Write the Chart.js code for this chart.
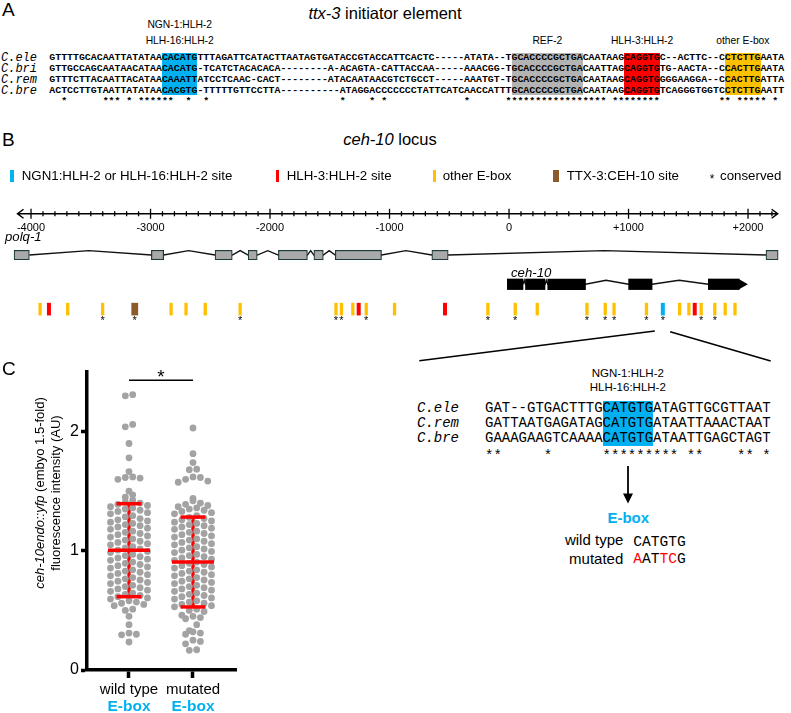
<!DOCTYPE html>
<html>
<head>
<meta charset="utf-8">
<title>ceh-10 E-box</title>
<script src="https://cdn.jsdelivr.net/npm/chart.js@4.4.1/dist/chart.umd.min.js"></script>
<style>
  html, body { margin: 0; padding: 0; background: #fff; }
  #page { position: relative; width: 791px; height: 713px; overflow: hidden;
          font-family: "Liberation Sans", Arial, sans-serif; color: #000; }
  .t { position: absolute; white-space: pre; }
  .box { position: absolute; }
  canvas { position: absolute; }
</style>
</head>
<body>
<div id="page">
  <canvas id="locus" width="791" height="215" style="left:0;top:150px;"></canvas>
  <canvas id="dots" width="250" height="353" style="left:0;top:360px;"></canvas>
</div>
<script>
// === fonts / colours ===
const SANS = '"Liberation Sans", Arial, sans-serif';
const MONO = '"Liberation Mono", "Courier New", monospace';
const BLUE = '#00b0f0', RED = '#ff0000', GOLD = '#ffc000', BROWN = '#8c5a2b', GREY = '#b3b3b3';

// === A: ttx-3 initiator element ===
const A_SPECIES = ['C.ele', 'C.bri', 'C.rem', 'C.bre'];
const A_SEQUENCES = [
  'GTTTTGCACAATTATATAACACATGTTTAGATTCATACTTAATAGTGATACCGTACCATTCACTC-----ATATA--TGCACCCCGCTGACAATAAGCAGGTGC--ACTTC--CCTCTTGAATA',
  'GTTGCCAGCAATAACATAACACATG-TCATCTACACACA--------A-ACAGTA-CATTACCAA-----AAACGG-TGCACCCCGCTGACAATTAGCAGGTGTG-AACTA--CCACTTGAATA',
  'GTTTCTTACAATTACATAACAAATTATCCTCAAC-CACT--------ATACAATAACGTCTGCCT-----AAATGT-TGCACCCCGCTGACAATAAGCAGGTGGGGAAGGA--CCACTTGATTA',
  'ACTCCTTGTAATTATATAACACGTG-TTTTTGTTCCTTA----------ATAGGACCCCCCCTATTCATCAACCATTTGCACCCCGCTGACAATAAGCAGGTGTCAGGGTGGTCCTCTTGAATT'
];
const A_SITE_START = [19, 78, 97, 114];
const A_SITE_LENGTH = [6, 12, 6, 6];
const A_SITE_COLOR = [BLUE, GREY, RED, GOLD];
const A_SITE_LABEL = [['NGN-1:HLH-2', 'HLH-16:HLH-2'], ['REF-2'], ['HLH-3:HLH-2'], ['other E-box']];

// === B: ceh-10 locus (bp) ===
const LOCUS_TICK_POS = [-4000, -3000, -2000, -1000, 0, 1000, 2000];
const LOCUS_TICK_LABELS = ['-4000', '-3000', '-2000', '-1000', '0', '+1000', '+2000'];
const POLQ_EXONS = [[-4142, -4014], [-2993, -2890], [-2460, -2316], [-2183, -2107], [-1930, -1687],
                    [-1633, -1554], [-1454, -1067], [-646, -509], [2150, 2252]];
const POLQ_PEAKS = [-3516, -2681, -2250, -2019, -1660, -1505, -863, 797];
const CEH10_EXONS = [[-14, 117], [138, 301], [324, 640], [1001, 1197], [1668, 1926]];
const CEH10_PEAKS = [128, 313, 811, 1423];
const CEH10_TIP = 1999;
const SITE_POS = [-3924, -3850, -3693, -3401, -3132, -2828, -2703, -2542, -2250, -1448, -1402,
                  -1307, -1258, -1195, -958, -536, -177, 52, 236, 652, 805, 879, 1150, 1287,
                  1428, 1505, 1554, 1608, 1722, 1809, 1891];
const SITE_TYPE = ['E','H','E','E','T','E','E','E','E','E','E','E','H','E','E','H','E','E','E','E',
                   'E','E','E','N','E','E','H','E','E','E','E'];
const SITE_CONSERVED = [0,0,0,1,1,0,0,0,1,1,1,0,0,1,0,0,1,1,0,1,1,1,1,1,0,0,0,1,1,0,0];
const LEGEND_LABELS = ['NGN1:HLH-2 or HLH-16:HLH-2 site', 'HLH-3:HLH-2 site', 'other E-box', 'TTX-3:CEH-10 site'];
const LEGEND_TYPES = ['N', 'H', 'E', 'T'];

// zoomed alignment around the NGN-1 site
const Z_SPECIES = ['C.ele', 'C.rem', 'C.bre'];
const Z_SEQUENCES = [
  'GAT--GTGACTTTGCATGTGATAGTTGCGTTAAT',
  'GATTAATGAGATAGCATGTGATAATTAAACTAAT',
  'GAAAGAAGTCAAAACATGTGATAATTGAGCTAGT'
];
const Z_SITE_START = [14];
const Z_SITE_LENGTH = [6];
const EBOX_ROWS = ['wild type', 'mutated'];
const EBOX_SEQ = ['CATGTG', 'AATTCG'];
const EBOX_CHANGED = [[], [0, 3, 4]];

// === C: ceh-10endo::yfp fluorescence ===
const GROUPS = ['wild type', 'mutated'];
const WT_VALUES = [
  2.31, 2.30, 2.06, 2.04, 1.90, 1.78, 1.665,
  1.62, 1.615, 1.61, 1.60, 1.50, 1.47, 1.45,
  1.425, 1.41, 1.40, 1.39, 1.38, 1.37,
  1.36, 1.35, 1.34, 1.33, 1.32, 1.31,
  1.295, 1.285, 1.27, 1.26, 1.25, 1.24,
  1.23, 1.22, 1.21, 1.20, 1.19, 1.18,
  1.165, 1.155, 1.145, 1.135, 1.125, 1.115,
  1.10, 1.09, 1.08, 1.07, 1.06, 1.05,
  1.035, 1.025, 1.015, 1.005, 0.995, 0.985,
  0.97, 0.96, 0.95, 0.94, 0.93, 0.92,
  0.905, 0.895, 0.885, 0.875, 0.865, 0.855,
  0.84, 0.83, 0.82, 0.81, 0.80, 0.79,
  0.775, 0.765, 0.755, 0.745, 0.735, 0.725,
  0.71, 0.70, 0.69, 0.68, 0.67, 0.66,
  0.645, 0.635, 0.625, 0.615, 0.605, 0.595,
  0.58, 0.57, 0.56, 0.55, 0.54,
  0.51, 0.50, 0.45, 0.38, 0.31, 0.30, 0.295, 0.235
];
const MUT_VALUES = [
  2.03, 1.815, 1.74, 1.685, 1.68,
  1.62, 1.615, 1.60, 1.585, 1.575, 1.44,
  1.42, 1.40, 1.39, 1.38, 1.37,
  1.36, 1.35, 1.34, 1.33, 1.32, 1.31,
  1.295, 1.28, 1.27, 1.26, 1.25, 1.24,
  1.23, 1.22, 1.21, 1.20, 1.19, 1.18,
  1.165, 1.155, 1.145, 1.135, 1.125, 1.115,
  1.10, 1.09, 1.08, 1.07, 1.06, 1.05,
  1.035, 1.025, 1.015, 1.005, 0.995, 0.985,
  0.97, 0.96, 0.95, 0.94, 0.93, 0.92,
  0.905, 0.895, 0.885, 0.875, 0.865, 0.855,
  0.84, 0.83, 0.82, 0.81, 0.80, 0.79,
  0.775, 0.765, 0.755, 0.745, 0.735, 0.725,
  0.71, 0.70, 0.69, 0.68, 0.67, 0.66,
  0.645, 0.635, 0.625, 0.615, 0.605, 0.595,
  0.58, 0.57, 0.56, 0.55, 0.54, 0.53,
  0.51, 0.50, 0.49, 0.46, 0.45, 0.44, 0.43,
  0.38, 0.33, 0.32, 0.31, 0.30, 0.25, 0.24, 0.22, 0.17, 0.165
];
const GROUP_MEAN = [1.005, 0.906];
const GROUP_SD = [0.39, 0.377];

const SITE_COLORS = { E: GOLD, H: RED, T: BROWN, N: BLUE };
const SITE_WIDTHS = { E: 3.3, H: 4, T: 6.8, N: 4 };

const page = document.getElementById('page');

// text helper: y is the vertical centre of capitals
function put(html, x, y, size, align, extra) {
  const d = document.createElement('div');
  d.className = 't';
  d.innerHTML = html;
  d.style.fontSize = size + 'px';
  d.style.lineHeight = size + 'px';
  d.style.top = (y - size / 2) + 'px';
  if (align === 'center') { d.style.left = x + 'px'; d.style.transform = 'translateX(-50%)'; }
  else if (align === 'right') { d.style.right = (791 - x) + 'px'; }
  else d.style.left = x + 'px';
  if (extra) Object.assign(d.style, extra);
  page.appendChild(d);
  return d;
}

function box(left, top, w, h, color) {
  const d = document.createElement('div');
  d.className = 'box';
  Object.assign(d.style, { left: left + 'px', top: top + 'px', width: w + 'px', height: h + 'px', background: color });
  page.appendChild(d);
}

// alignment block with highlighted sites and conservation stars
function alignment(o) {
  const cw = o.size * 0.6;
  o.starts.forEach((s, i) => box(o.left + s * cw, o.boxTop, o.lengths[i] * cw, o.boxBottom - o.boxTop, o.colors[i]));
  o.seqs.forEach((s, i) => {
    const y = o.firstY + i * o.gap;
    put(o.names[i], o.nameLeft, y, o.nameSize, 'left', { fontFamily: MONO, fontStyle: 'italic' });
    put(s, o.left, y, o.size, 'left', { fontFamily: MONO, fontWeight: o.weight });
  });
  let stars = '';
  for (let i = 0; i < o.seqs[0].length; i++) {
    const c = o.seqs[0][i];
    stars += (c !== '-' && o.seqs.every(s => s[i] === c)) ? '*' : ' ';
  }
  put(stars, o.left, o.starY, o.size, 'left', { fontFamily: MONO, fontWeight: o.weight });
}

// === panel A ===
put('A', 2, 9.3, 19);
put('<i>ttx-3</i> initiator element', 385, 12.8, 16.5, 'center');
alignment({
  names: A_SPECIES, seqs: A_SEQUENCES, left: 49.3, nameLeft: 1, size: 9.88, nameSize: 12,
  firstY: 57.5, gap: 11.1, starY: 102, weight: 'bold',
  starts: A_SITE_START, lengths: A_SITE_LENGTH, colors: A_SITE_COLOR, boxTop: 52.7, boxBottom: 95.5
});
A_SITE_LABEL.forEach((lines, i) => {
  const cx = 49.3 + (A_SITE_START[i] + A_SITE_LENGTH[i] / 2) * 9.88 * 0.6;
  lines.forEach((t, j) => put(t, cx, 41.2 - (lines.length - 1 - j) * 16, 10.3, 'center'));
});

// === panel B headings / legend ===
put('B', 2, 139.6, 19);
put('<i>ceh-10</i> locus', 390, 139.6, 16.5, 'center');
const LEG_BAR_X = [10.3, 275.7, 432.7, 552.7];
const LEG_TEXT_X = [21.7, 286.7, 442.7, 566.7];
LEGEND_LABELS.forEach((t, i) => {
  const ty = LEGEND_TYPES[i];
  box(LEG_BAR_X[i], 170, ty === 'T' ? 6.6 : 3.5, 11.8, SITE_COLORS[ty]);
  put(t, LEG_TEXT_X[i], 175.8, 13.3);
});
put('*', 712, 178.5, 12, 'center');
put('conserved', 720, 175.8, 13.3);
put('<i>polq-1</i>', 5, 236.3, 13.2);
put('<i>ceh-10</i>', 511, 272.6, 13.2);

// zoomed alignment
put('NGN-1:HLH-2', 627.8, 373.8, 11.5, 'center');
put('HLH-16:HLH-2', 627.8, 388.2, 11.5, 'center');
alignment({
  names: Z_SPECIES, seqs: Z_SEQUENCES, left: 485, nameLeft: 417, size: 14, nameSize: 14,
  firstY: 408.3, gap: 15, starY: 456, weight: 'normal',
  starts: Z_SITE_START, lengths: Z_SITE_LENGTH, colors: [BLUE], boxTop: 400.7, boxBottom: 446
});
const svgNS = 'http://www.w3.org/2000/svg';
const arrow = document.createElementNS(svgNS, 'svg');
arrow.setAttribute('width', 20); arrow.setAttribute('height', 40);
arrow.style.position = 'absolute'; arrow.style.left = '618.3px'; arrow.style.top = '465px';
arrow.innerHTML = '<line x1="10" y1="1" x2="10" y2="30" stroke="#000" stroke-width="1.8"/>' +
                  '<polygon points="5,28.5 15,28.5 10,38.5" fill="#000"/>';
page.appendChild(arrow);
put('E-box', 628.3, 517, 15, 'center', { fontWeight: 'bold', color: BLUE });
EBOX_ROWS.forEach((t, i) => {
  put(t, 623.3, [539.3, 558.3][i], 15, 'right');
  const html = EBOX_SEQ[i].split('').map((c, k) =>
    EBOX_CHANGED[i].includes(k) ? '<span style="color:' + RED + '">' + c + '</span>' : c).join('');
  put(html, 633.3, [542.6, 559.6][i], 14.6, 'left', { fontFamily: MONO });
});

// === panel C headings ===
put('C', 2, 368.3, 19);
put('<i>ceh-10endo::yfp</i> (embyo 1.5-fold)<br>fluorescence intensity (AU)', 48 - 110, 493, 13, 'left',
  { width: '220px', lineHeight: '16px', top: (493 - 16) + 'px', textAlign: 'center', transform: 'rotate(-90deg)', whiteSpace: 'nowrap' });

// === Chart.js: ceh-10 locus ===
Chart.defaults.font.family = SANS;
Chart.defaults.color = '#000';

const ROW_RULER = 57.7, ROW_POLQ = 104.7, ROW_CEH = 138, ROW_SITE = 166.3, ROW_STAR = 183.5;
const INTRON_RISE = 5;

function intronPath(exons, peaks, row, rise) {
  const pts = [];
  for (let i = 0; i < exons.length - 1; i++) {
    pts.push({ x: exons[i][1], y: row }, { x: peaks[i], y: row - rise }, { x: exons[i + 1][0], y: row });
  }
  return pts;
}

const locusDecor = {
  id: 'locusDecor',
  beforeDatasetsDraw(chart) {
    const { ctx, scales: { x, y } } = chart;
    const ry = y.getPixelForValue(ROW_RULER);
    const x0 = x.getPixelForValue(-4113), x1 = x.getPixelForValue(2248);
    ctx.save();
    ctx.strokeStyle = '#000';
    ctx.lineWidth = 1.5;
    ctx.beginPath();
    ctx.moveTo(x0, ry); ctx.lineTo(x1, ry);
    ctx.moveTo(x0 + 6, ry - 4.5); ctx.lineTo(x0, ry); ctx.lineTo(x0 + 6, ry + 4.5);
    ctx.moveTo(x1 - 6, ry - 4.5); ctx.lineTo(x1, ry); ctx.lineTo(x1 - 6, ry + 4.5);
    ctx.stroke();
    ctx.lineWidth = 1.3;
    for (let v = -4000; v <= 2200; v += 100) {
      const h = v % 1000 === 0 ? 5 : 2.5;
      const px = x.getPixelForValue(v);
      ctx.beginPath(); ctx.moveTo(px, ry - h); ctx.lineTo(px, ry + h); ctx.stroke();
    }
    ctx.fillStyle = '#000';
    ctx.font = '11px ' + SANS;
    ctx.textAlign = 'center';
    ctx.textBaseline = 'middle';
    LOCUS_TICK_POS.forEach((v, i) => ctx.fillText(LOCUS_TICK_LABELS[i], x.getPixelForValue(v), ry + 14.5));
    ctx.restore();
  },
  afterDatasetsDraw(chart) {
    const { ctx, scales: { x, y } } = chart;
    ctx.save();
    // arrow tip of ceh-10
    const last = CEH10_EXONS[CEH10_EXONS.length - 1][1];
    const cy = y.getPixelForValue(ROW_CEH);
    ctx.fillStyle = '#000';
    ctx.beginPath();
    ctx.moveTo(x.getPixelForValue(last) - 0.5, cy - 5.3);
    ctx.lineTo(x.getPixelForValue(CEH10_TIP), cy);
    ctx.lineTo(x.getPixelForValue(last) - 0.5, cy + 5.3);
    ctx.closePath(); ctx.fill();
    // conservation stars
    ctx.font = '11px ' + SANS;
    ctx.textAlign = 'center';
    ctx.textBaseline = 'alphabetic';
    SITE_POS.forEach((p, i) => {
      if (SITE_CONSERVED[i]) ctx.fillText('*', x.getPixelForValue(p), y.getPixelForValue(ROW_STAR));
    });
    // zoom lines from the NGN-1 site down to the alignment
    const bx = x.getPixelForValue(SITE_POS[SITE_TYPE.indexOf('N')]);
    ctx.strokeStyle = '#000';
    ctx.lineWidth = 1.5;
    ctx.beginPath();
    ctx.moveTo(bx - 8, 181); ctx.lineTo(419.3, 210.7);
    ctx.moveTo(bx + 7.3, 181.7); ctx.lineTo(770.7, 211);
    ctx.stroke();
    ctx.restore();
  }
};

new Chart(document.getElementById('locus'), {
  type: 'scatter',
  data: {
    datasets: [
      {
        type: 'scatter',
        data: SITE_POS.map(p => ({ x: p, y: ROW_SITE })),
        pointStyle: 'line',
        pointRotation: 90,
        pointRadius: 6.3,
        pointBorderColor: ctx => SITE_COLORS[SITE_TYPE[ctx.dataIndex]],
        pointBorderWidth: ctx => SITE_WIDTHS[SITE_TYPE[ctx.dataIndex]],
        order: 0,
        clip: false
      },
      {
        type: 'bar',
        indexAxis: 'y',
        data: POLQ_EXONS.map(e => ({ x: e, y: ROW_POLQ })),
        barThickness: 9.5,
        grouped: false,
        backgroundColor: '#a9a9a9',
        borderColor: '#1f3a3a',
        borderWidth: 1.2,
        borderSkipped: false,
        order: 1,
        clip: false
      },
      {
        type: 'bar',
        indexAxis: 'y',
        data: CEH10_EXONS.map(e => ({ x: e, y: ROW_CEH })),
        barThickness: 10.6,
        grouped: false,
        backgroundColor: '#000',
        borderWidth: 0,
        order: 1,
        clip: false
      },
      {
        type: 'line',
        data: intronPath(POLQ_EXONS, POLQ_PEAKS, ROW_POLQ, INTRON_RISE),
        borderColor: '#111',
        borderWidth: 1.4,
        pointRadius: 0,
        tension: 0,
        fill: false,
        order: 2
      },
      {
        type: 'line',
        data: intronPath(CEH10_EXONS, CEH10_PEAKS, ROW_CEH, 4.5),
        borderColor: '#111',
        borderWidth: 1.4,
        pointRadius: 0,
        tension: 0,
        fill: false,
        order: 2
      }
    ]
  },
  options: {
    responsive: false,
    animation: false,
    devicePixelRatio: 1,
    events: [],
    layout: { padding: { left: 4, right: 3, top: 0, bottom: 0 } },
    plugins: { legend: { display: false }, tooltip: { enabled: false } },
    scales: {
      x: { type: 'linear', min: -4150, max: 2250, display: false, offset: false },
      y: { type: 'linear', min: 0, max: 215, reverse: true, display: false, offset: false }
    }
  },
  plugins: [locusDecor]
});

// === Chart.js: dot plot ===
// points of one bin are spread sideways, highest in the middle
function swarm(values, center, bin, step) {
  const groups = {};
  values.forEach(v => {
    const k = Math.floor(v / bin);
    (groups[k] = groups[k] || []).push(v);
  });
  const pts = [];
  Object.values(groups).forEach(g => {
    g.sort((a, b) => b - a);
    const slots = g.map((_, i) => i - (g.length - 1) / 2);
    slots.sort((a, b) => Math.abs(a) - Math.abs(b) || b - a);
    g.forEach((v, i) => pts.push({ x: center + slots[i] * step, y: v }));
  });
  return pts;
}

const dotDecor = {
  id: 'dotDecor',
  beforeDatasetsDraw(chart) {
    const { ctx, scales: { x, y } } = chart;
    ctx.save();
    ctx.strokeStyle = RED;
    ctx.lineWidth = 3.5;
    GROUP_MEAN.forEach((m, i) => {
      const cx = x.getPixelForValue(i + 1);
      ctx.beginPath();
      ctx.moveTo(cx, y.getPixelForValue(m - GROUP_SD[i]));
      ctx.lineTo(cx, y.getPixelForValue(m + GROUP_SD[i]));
      ctx.stroke();
    });
    ctx.restore();
  },
  afterDatasetsDraw(chart) {
    const { ctx, scales: { x, y } } = chart;
    ctx.save();
    ctx.strokeStyle = RED;
    ctx.lineWidth = 3.5;
    const hline = (v, c, half) => {
      ctx.beginPath();
      ctx.moveTo(x.getPixelForValue(c - half), y.getPixelForValue(v));
      ctx.lineTo(x.getPixelForValue(c + half), y.getPixelForValue(v));
      ctx.stroke();
    };
    GROUP_MEAN.forEach((m, i) => {
      hline(m, i + 1, 0.328);
      hline(m + GROUP_SD[i], i + 1, 0.195);
      hline(m - GROUP_SD[i], i + 1, 0.195);
    });
    ctx.restore();
  },
  afterDraw(chart) {
    const { ctx, scales: { x, y } } = chart;
    ctx.save();
    // significance bar
    const sy = y.getPixelForValue(2.43);
    ctx.strokeStyle = '#000';
    ctx.lineWidth = 1.5;
    ctx.beginPath();
    ctx.moveTo(x.getPixelForValue(1), sy);
    ctx.lineTo(x.getPixelForValue(2), sy);
    ctx.stroke();
    ctx.fillStyle = '#000';
    ctx.textAlign = 'center';
    ctx.textBaseline = 'alphabetic';
    ctx.font = '19px ' + SANS;
    ctx.fillText('*', (x.getPixelForValue(1) + x.getPixelForValue(2)) / 2, sy + 2.5);
    // E-box line under the group names
    ctx.fillStyle = BLUE;
    ctx.font = 'bold 15.5px ' + SANS;
    ctx.textBaseline = 'middle';
    GROUPS.forEach((g, i) => ctx.fillText('E-box', x.getPixelForValue(i + 1), 347));
    ctx.restore();
  }
};

const DOT_STEP = 7.4 / 64;
const DOT_BIN = 0.065;
new Chart(document.getElementById('dots'), {
  type: 'scatter',
  data: {
    datasets: [
      { data: swarm(WT_VALUES, 1, DOT_BIN, DOT_STEP), backgroundColor: '#a3a3a3', borderWidth: 0, pointRadius: 3.4 },
      { data: swarm(MUT_VALUES, 2, DOT_BIN, DOT_STEP), backgroundColor: '#a3a3a3', borderWidth: 0, pointRadius: 3.4 }
    ]
  },
  options: {
    responsive: false,
    animation: false,
    devicePixelRatio: 1,
    events: [],
    layout: { padding: { top: 12, right: 14, left: 0, bottom: 0 } },
    plugins: { legend: { display: false }, tooltip: { enabled: false } },
    scales: {
      x: {
        type: 'linear', min: 0.34375, max: 2.672,
        afterBuildTicks: s => { s.ticks = [{ value: 1 }, { value: 2 }]; },
        afterFit: s => { s.height = 43; },
        ticks: { callback: v => GROUPS[v - 1], font: { size: 15 }, color: '#000', padding: 3, maxRotation: 0, autoSkip: false },
        grid: { drawOnChartArea: false, tickLength: 8, tickWidth: 3.5, tickColor: '#000' },
        border: { color: '#000', width: 3.5 }
      },
      y: {
        min: 0, max: 2.5,
        afterBuildTicks: s => { s.ticks = [{ value: 0 }, { value: 1 }, { value: 2 }]; },
        afterFit: s => { s.width = 87; },
        ticks: { font: { size: 16 }, color: '#000', padding: 2 },
        grid: { drawOnChartArea: false, tickLength: 6, tickWidth: 3.5, tickColor: '#000' },
        border: { color: '#000', width: 3.5 }
      }
    }
  },
  plugins: [dotDecor]
});
</script>
</body>
</html>
